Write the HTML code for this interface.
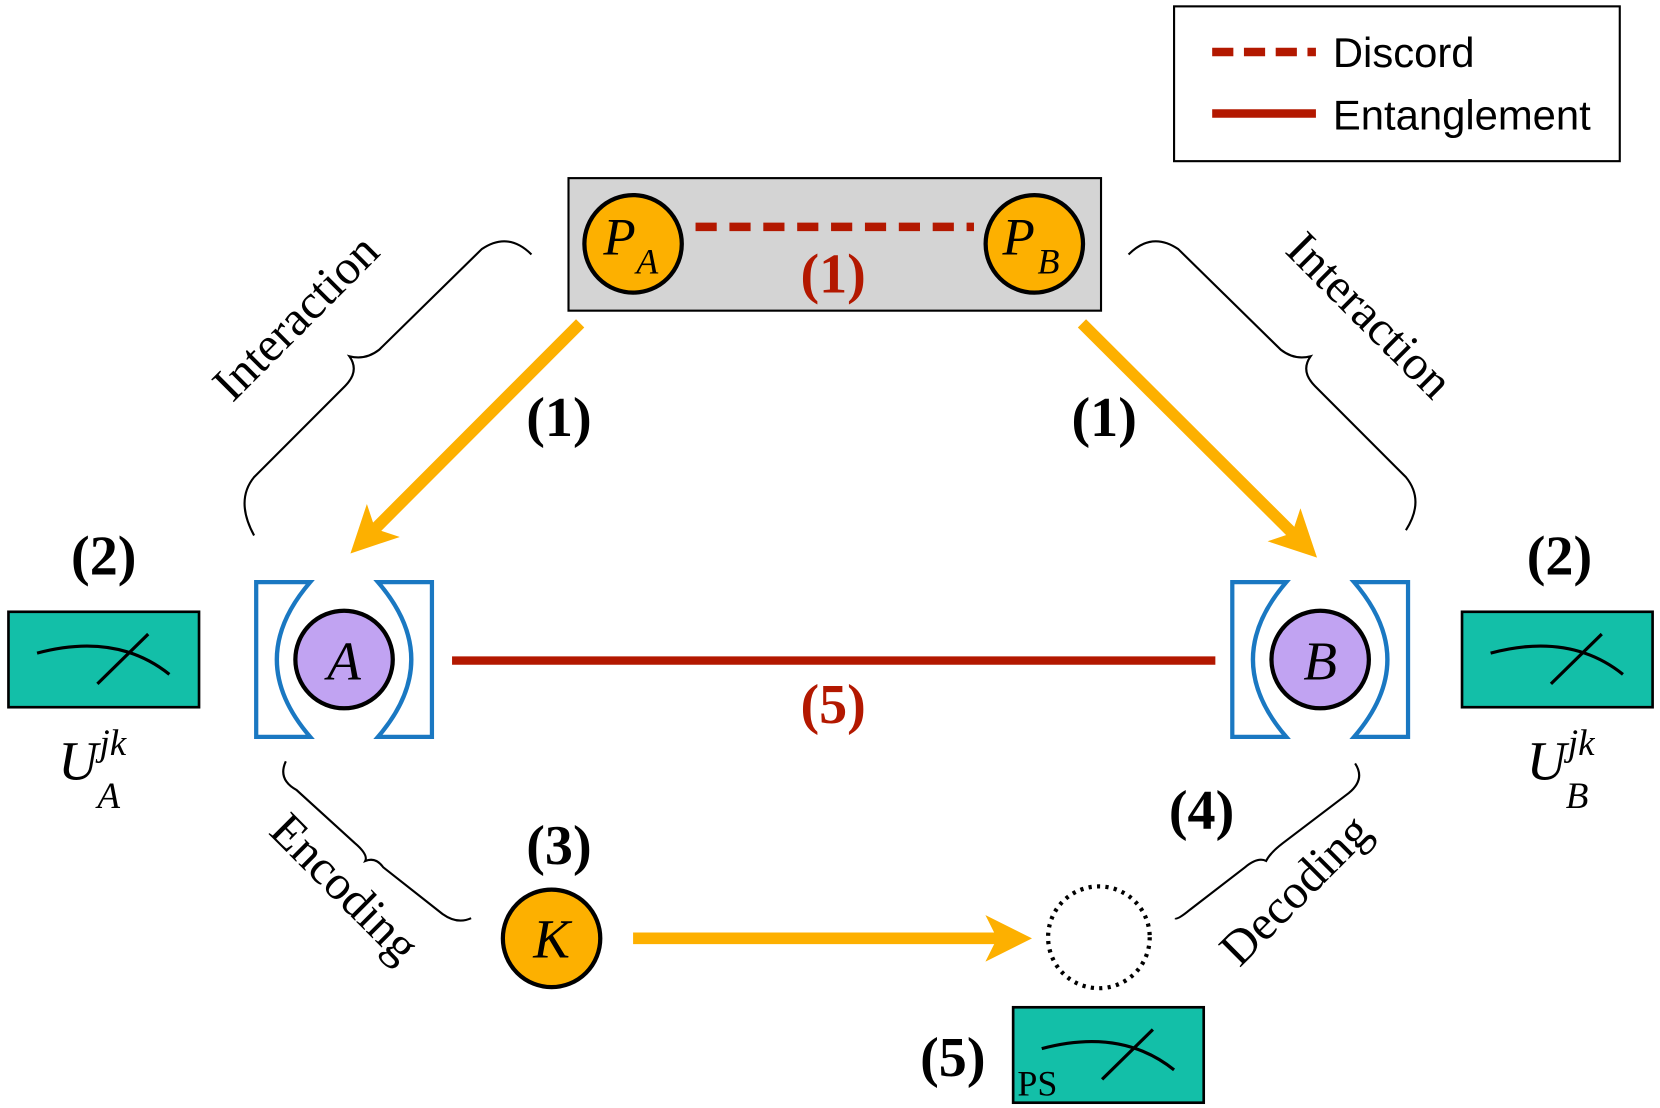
<!DOCTYPE html>
<html><head><meta charset="utf-8"><style>
html,body{margin:0;padding:0;background:#fff;}
svg{display:block;}
</style></head><body>
<svg width="1660" height="1108" viewBox="0 0 1568 1045" preserveAspectRatio="none" xmlns="http://www.w3.org/2000/svg">
<defs>
<marker id="ah" markerWidth="4" markerHeight="4" refX="2.2" refY="2" orient="auto" markerUnits="strokeWidth">
<path d="M0,0 L4,2 L0,4 L1,2 Z" fill="#fdb000"/>
</marker>
</defs>
<rect width="1568" height="1045" fill="#fff"/>
<!-- legend -->
<rect x="1109" y="6" width="421" height="146" fill="#fff" stroke="#000" stroke-width="2"/>
<line x1="1145" y1="49" x2="1243" y2="49" stroke="#b31800" stroke-width="8" stroke-dasharray="20 10"/>
<line x1="1145" y1="107" x2="1243" y2="107" stroke="#b31800" stroke-width="8"/>
<text x="1259" y="63" font-family="Liberation Sans, sans-serif" font-size="39.5">Discord</text>
<text x="1259" y="122" font-family="Liberation Sans, sans-serif" font-size="39.5">Entanglement</text>
<!-- top box -->
<rect x="537" y="168" width="503" height="125" fill="#d4d4d4" stroke="#000" stroke-width="2"/>
<line x1="657" y1="214" x2="920" y2="214" stroke="#b31800" stroke-width="8" stroke-dasharray="20 12"/>
<circle cx="598" cy="230" r="46" fill="#fdb000" stroke="#000" stroke-width="4"/>
<circle cx="977" cy="230" r="46" fill="#fdb000" stroke="#000" stroke-width="4"/>
<text x="570" y="240" font-family="Liberation Serif, serif" font-style="italic" font-size="50">P</text>
<text x="601" y="258" font-family="Liberation Serif, serif" font-style="italic" font-size="34">A</text>
<text x="947" y="240" font-family="Liberation Serif, serif" font-style="italic" font-size="50">P</text>
<text x="980" y="258" font-family="Liberation Serif, serif" font-style="italic" font-size="34">B</text>
<text x="787" y="276" text-anchor="middle" font-family="Liberation Serif, serif" font-weight="bold" font-size="53" fill="#b31800">(1)</text>
<!-- orange arrows -->
<line x1="548" y1="305" x2="345" y2="508" stroke="#fdb000" stroke-width="11" marker-end="url(#ah)"/>
<line x1="1022" y1="305" x2="1230" y2="512" stroke="#fdb000" stroke-width="11" marker-end="url(#ah)"/>
<line x1="598" y1="885" x2="955" y2="885" stroke="#fdb000" stroke-width="11" marker-end="url(#ah)"/>
<g font-family="Liberation Serif, serif" font-weight="bold" font-size="53" text-anchor="middle">
<text x="528" y="411">(1)</text>
<text x="1043" y="411">(1)</text>
<text x="98" y="542">(2)</text>
<text x="1473" y="542">(2)</text>
<text x="528" y="815">(3)</text>
<text x="1135" y="782">(4)</text>
<text x="900" y="1015">(5)</text>
</g>
<!-- entanglement line -->
<line x1="427" y1="623" x2="1148" y2="623" stroke="#b31800" stroke-width="8"/>
<text x="787" y="682" text-anchor="middle" font-family="Liberation Serif, serif" font-weight="bold" font-size="53" fill="#b31800">(5)</text>
<!-- cavities -->
<g fill="none" stroke="#1a78c2" stroke-width="4">
<path d="M242,549 H293 Q230,622 293,695 H242 Z"/>
<path d="M408,549 H357 Q420,622 357,695 H408 Z"/>
<path d="M1164,549 H1215 Q1152,622 1215,695 H1164 Z"/>
<path d="M1330,549 H1279 Q1342,622 1279,695 H1330 Z"/>
</g>
<circle cx="325" cy="622" r="46" fill="#c1a3f2" stroke="#000" stroke-width="4"/>
<circle cx="1247" cy="622" r="46" fill="#c1a3f2" stroke="#000" stroke-width="4"/>
<text x="325" y="641" text-anchor="middle" font-family="Liberation Serif, serif" font-style="italic" font-size="52">A</text>
<text x="1247" y="641" text-anchor="middle" font-family="Liberation Serif, serif" font-style="italic" font-size="52">B</text>
<!-- K and dotted -->
<circle cx="521" cy="885" r="46" fill="#fdb000" stroke="#000" stroke-width="4"/>
<text x="521" y="903" text-anchor="middle" font-family="Liberation Serif, serif" font-style="italic" font-size="52">K</text>
<circle cx="1038" cy="884" r="48" fill="none" stroke="#000" stroke-width="4" stroke-dasharray="3 5"/>
<!-- meters -->
<g stroke="#000" stroke-width="3" fill="none">
<rect x="8" y="577" width="180" height="90" fill="#13bfa8" stroke-width="2.5"/>
<path d="M35,616 Q110,596 160,636"/><line x1="92" y1="645" x2="140" y2="598"/>
<rect x="1381" y="577" width="180" height="90" fill="#13bfa8" stroke-width="2.5"/>
<path d="M1408,616 Q1483,596 1533,636"/><line x1="1465" y1="645" x2="1513" y2="598"/>
<rect x="957" y="950" width="180" height="90" fill="#13bfa8" stroke-width="2.5"/>
<path d="M984,989 Q1059,969 1109,1009"/><line x1="1041" y1="1018" x2="1089" y2="971"/>
</g>
<text x="961" y="1033" font-family="Liberation Serif, serif" font-size="34">PS</text>
<!-- U labels -->
<g font-family="Liberation Serif, serif" font-style="italic">
<text x="55" y="735" font-size="52">U</text><text x="94" y="712" font-size="35">jk</text><text x="92" y="762" font-size="35">A</text>
<text x="1442" y="735" font-size="52">U</text><text x="1481" y="712" font-size="35">jk</text><text x="1479" y="762" font-size="35">B</text>
</g>
<!-- braces -->
<g fill="none" stroke="#000" stroke-width="2">
<path d="M502,240 Q480,218 455,235 L358,330 Q345,340 330,336 Q340,350 326,364 L240,450 Q222,472 240,505"/>
<path d="M1066,240 Q1088,218 1113,235 L1210,330 Q1223,340 1238,336 Q1228,350 1242,364 L1328,450 Q1346,472 1328,500"/>
<path d="M270,718 Q262,735 280,745 L335,795 Q348,806 345,812 Q355,808 362,818 L418,862 Q432,872 445,866"/>
<path d="M1280,720 Q1290,735 1274,748 L1212,795 Q1200,804 1196,812 Q1188,808 1176,818 L1124,858 Q1112,868 1110,866"/>
</g>
<g font-family="Liberation Serif, serif" font-size="46" text-anchor="middle">
<text transform="translate(290,310) rotate(-45)">Interaction</text>
<text transform="translate(1283,308) rotate(45)">Interaction</text>
<text transform="translate(315,848) rotate(45)">Encoding</text>
<text transform="translate(1234,850) rotate(-45)">Decoding</text>
</g>
</svg>
</body></html>
